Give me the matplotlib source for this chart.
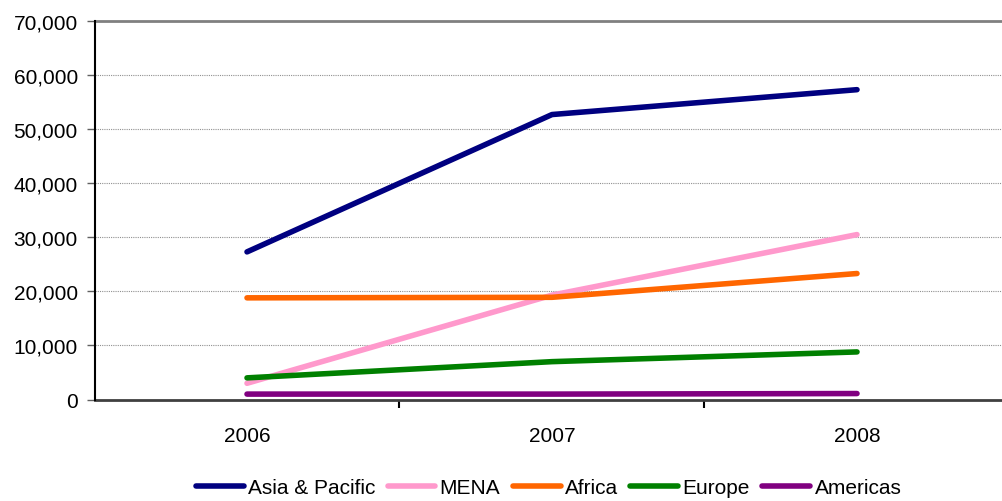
import matplotlib.pyplot as plt
from matplotlib.ticker import FuncFormatter, FixedLocator

years = ["2006", "2007", "2008"]
asia_pacific = [27300, 52700, 57300]
mena = [3000, 19300, 30500]
africa = [18800, 18900, 23300]
europe = [4000, 7000, 8800]
americas = [1000, 1000, 1100]

series = [
    ("Asia & Pacific", asia_pacific, "#000080"),
    ("MENA", mena, "#FF99CC"),
    ("Africa", africa, "#FF6600"),
    ("Europe", europe, "#008000"),
    ("Americas", americas, "#800080"),
]

plt.rcParams["font.family"] = ["Liberation Sans", "DejaVu Sans"]

fig = plt.figure(figsize=(10.03, 5.02), dpi=100)
ax = fig.add_axes([94.5 / 1003, 101.5 / 502, 915 / 1003, 378.5 / 502])

x = list(range(len(years)))
for name, vals, color in series:
    ax.plot(x, vals, color=color, lw=4.0, solid_capstyle="round",
            solid_joinstyle="round", label=name, zorder=3)

ax.set_xlim(-0.5, 2.5)
ax.set_ylim(0, 70000)

# dotted gridlines, the top one solid gray
for yv in range(10000, 70000, 10000):
    ax.axhline(yv, color="#909090", lw=0.8, ls=(0, (1, 1)), zorder=1)
ax.axhline(70000, color="#808080", lw=2, zorder=1, clip_on=False)

ax.set_yticks(range(0, 70001, 10000))
ax.yaxis.set_major_formatter(FuncFormatter(lambda v, p: f"{int(v):,}"))
ax.tick_params(axis="y", length=6, width=1, color="#606060",
               labelsize=15, pad=6)

ax.set_xticks(x)
ax.set_xticklabels(years)
ax.tick_params(axis="x", which="major", length=0, labelsize=15, pad=19)
ax.xaxis.set_minor_locator(FixedLocator([0.5, 1.5]))
ax.tick_params(axis="x", which="minor", length=6, width=1.5, color="black")

for s in ["top", "right"]:
    ax.spines[s].set_visible(False)
ax.spines["left"].set_color("black")
ax.spines["left"].set_linewidth(1.5)
ax.spines["left"].set_zorder(4)
ax.spines["bottom"].set_color("#404040")
ax.spines["bottom"].set_linewidth(2)

fig.legend(loc="center", bbox_to_anchor=(548.5 / 1003, 13 / 502), ncol=5,
           frameon=False, fontsize=15, handlelength=2.3, handletextpad=0.2,
           columnspacing=0.6, borderaxespad=0)

fig.savefig("out.png", dpi=100)
